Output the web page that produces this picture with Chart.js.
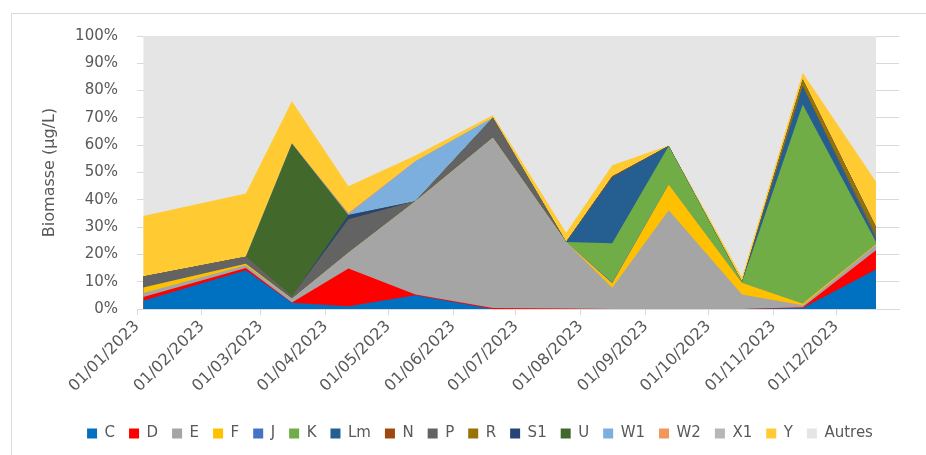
<!DOCTYPE html>
<html>
<head>
<meta charset="utf-8">
<script src="https://cdn.jsdelivr.net/npm/chart.js@4.4.1/dist/chart.umd.min.js"></script>
<style>
  html, body { margin: 0; padding: 0; background: #fff; }
  #wrap { width: 926px; height: 455px; }
</style>
</head>
<body>
<div id="wrap"><canvas id="chart" width="926" height="455"></canvas></div>
<script>
  // sampling dates
  const DATES = [
    "2023-01-04", "2023-02-22", "2023-03-16", "2023-04-12", "2023-05-14", "2023-06-20",
    "2023-07-25", "2023-08-16", "2023-09-12", "2023-10-17", "2023-11-15", "2023-12-20",
  ];

  // month ticks shown on the x axis
  const MONTH_TICKS = [
    "2023-01-01", "2023-02-01", "2023-03-01", "2023-04-01", "2023-05-01", "2023-06-01",
    "2023-07-01", "2023-08-01", "2023-09-01", "2023-10-01", "2023-11-01", "2023-12-01",
  ];
  const AXIS_END = "2023-12-31";

  // share of biomass (%) per taxon, one value per date
  const C = [3.0, 14.2, 2.3, 1.0, 5.0, 0, 0, 0, 0, 0, 0.4, 14.5];
  const D = [1.4, 0.8, 0.1, 13.8, 0.3, 0.4, 0.2, 0, 0, 0, 0.2, 7.0];
  const E = [1.5, 1.0, 1.4, 5.8, 34.2, 62.3, 24.3, 7.8, 36.2, 5.3, 0.8, 2.0];
  const F = [2.0, 0.6, 0, 0, 0, 0, 0, 1.6, 9.4, 4.3, 0.6, 0.3];
  const J = [0, 0, 0, 0, 0, 0, 0, 0.4, 0, 0, 0, 0];
  const K = [0, 0, 0, 0, 0, 0, 0, 14.3, 14.1, 0.3, 72.9, 0.8];
  const LM = [0, 0, 0, 0, 0, 0, 0, 24.1, 0, 0, 6.7, 1.0];
  const N = [0, 0, 0, 0, 0, 0, 0, 0.3, 0, 0, 0, 0];
  const P = [4.0, 2.5, 0.9, 12.2, 0, 7.4, 0, 0, 0, 0, 0, 1.8];
  const R = [0, 0, 0, 0, 0, 0, 0, 0, 0, 0, 2.5, 2.6];
  const S1 = [0, 0, 0, 1.6, 0, 0, 0, 0, 0, 0, 0, 0];
  const U = [0, 0, 55.9, 0, 0, 0, 0, 0, 0, 0, 0, 0];
  const W1 = [0, 0, 0, 0.3, 14.6, 0, 0, 0, 0, 0, 0, 0];
  const W2 = [0, 0, 0, 0.5, 0, 0, 0, 0, 0, 0, 0, 0];
  const X1 = [0, 0, 0, 0, 0, 0, 0, 0, 0, 0, 0, 0];
  const Y = [22.2, 23.2, 15.5, 9.8, 2.1, 0.9, 3.4, 4.2, 0.2, 1.7, 2.4, 16.6];
  const AUTRES = [65.9, 57.7, 23.9, 55.0, 43.8, 29.0, 72.1, 47.3, 40.1, 88.4, 13.5, 53.4];

  const SERIES = [
    ["C", C, "#0070C0"],
    ["D", D, "#FF0000"],
    ["E", E, "#A5A5A5"],
    ["F", F, "#FFC000"],
    ["J", J, "#4472C4"],
    ["K", K, "#70AD47"],
    ["Lm", LM, "#255E91"],
    ["N", N, "#9E480E"],
    ["P", P, "#636363"],
    ["R", R, "#997300"],
    ["S1", S1, "#264478"],
    ["U", U, "#43682B"],
    ["W1", W1, "#7CAFDD"],
    ["W2", W2, "#F1975A"],
    ["X1", X1, "#B7B7B7"],
    ["Y", Y, "#FFCA32"],
    ["Autres", AUTRES, "#E5E5E5"],
  ];

  const Y_TITLE = "Biomasse (µg/L)";

  const DAY = 86400000;
  const T0 = Date.UTC(2023, 0, 1);
  const dayOf = (s) => (Date.parse(s + "T00:00:00Z") - T0) / DAY;
  const fmt = (v) => {
    const d = new Date(T0 + v * DAY);
    const dd = String(d.getUTCDate()).padStart(2, "0");
    const mm = String(d.getUTCMonth() + 1).padStart(2, "0");
    return `${dd}/${mm}/${d.getUTCFullYear()}`;
  };

  const xs = DATES.map(dayOf);

  // every layer fills down to the axis; lower layers are drawn last and cover the rest
  const datasets = SERIES.map(([label, vals, color]) => ({
    label,
    data: vals.map((v, i) => ({ x: xs[i], y: v })),
    backgroundColor: color,
    borderColor: color,
    borderWidth: 0,
    pointRadius: 0,
    pointHoverRadius: 0,
    tension: 0,
    fill: "origin",
  }));

  // white background, light frame, and the y title at a fixed spot
  const frame = {
    id: "frame",
    beforeDraw(chart) {
      const c = chart.ctx;
      c.save();
      c.fillStyle = "#fff";
      c.fillRect(0, 0, chart.width, chart.height);
      c.strokeStyle = "#D9D9D9";
      c.lineWidth = 1;
      c.beginPath();
      c.moveTo(11.5, 455);
      c.lineTo(11.5, 13.5);
      c.lineTo(926, 13.5);
      c.stroke();
      c.restore();
    },
    afterDraw(chart) {
      const c = chart.ctx;
      const a = chart.chartArea;
      c.save();
      c.translate(50, (a.top + a.bottom) / 2);
      c.rotate(-Math.PI / 2);
      c.fillStyle = "#595959";
      c.font = "16px 'DejaVu Sans', sans-serif";
      c.textAlign = "center";
      c.textBaseline = "middle";
      c.fillText(Y_TITLE, 0, 0);
      c.restore();
    },
  };

  Chart.defaults.font.family = "'DejaVu Sans', sans-serif";
  Chart.defaults.font.size = 15;
  Chart.defaults.color = "#595959";

  new Chart(document.getElementById("chart"), {
    type: "line",
    data: { datasets },
    plugins: [frame],
    options: {
      responsive: false,
      animation: false,
      layout: { padding: { top: 36, right: 27, left: 61, bottom: 4 } },
      plugins: {
        legend: {
          position: "bottom",
          labels: { boxWidth: 10, boxHeight: 10, padding: 14 },
        },
        tooltip: { enabled: false },
      },
      scales: {
        x: {
          type: "linear",
          min: 0,
          max: dayOf(AXIS_END),
          afterBuildTicks: (axis) => {
            axis.ticks = MONTH_TICKS.map((s) => ({ value: dayOf(s) }));
          },
          afterFit: (axis) => {
            axis.height = 103;
          },
          ticks: {
            autoSkip: false,
            minRotation: 45,
            maxRotation: 45,
            padding: 2,
            font: { size: 16 },
            callback: (v) => fmt(v),
          },
          grid: {
            drawOnChartArea: false,
            drawTicks: true,
            tickLength: 6,
            color: "#D9D9D9",
          },
          border: { display: true, color: "#D9D9D9" },
        },
        y: {
          stacked: true,
          min: 0,
          max: 100,
          afterFit: (axis) => {
            axis.width = 76;
          },
          ticks: { stepSize: 10, padding: 19, callback: (v) => v + "%" },
          grid: { color: "#D9D9D9", drawTicks: false },
          border: { display: false },
        },
      },
    },
  });
</script>
</body>
</html>
